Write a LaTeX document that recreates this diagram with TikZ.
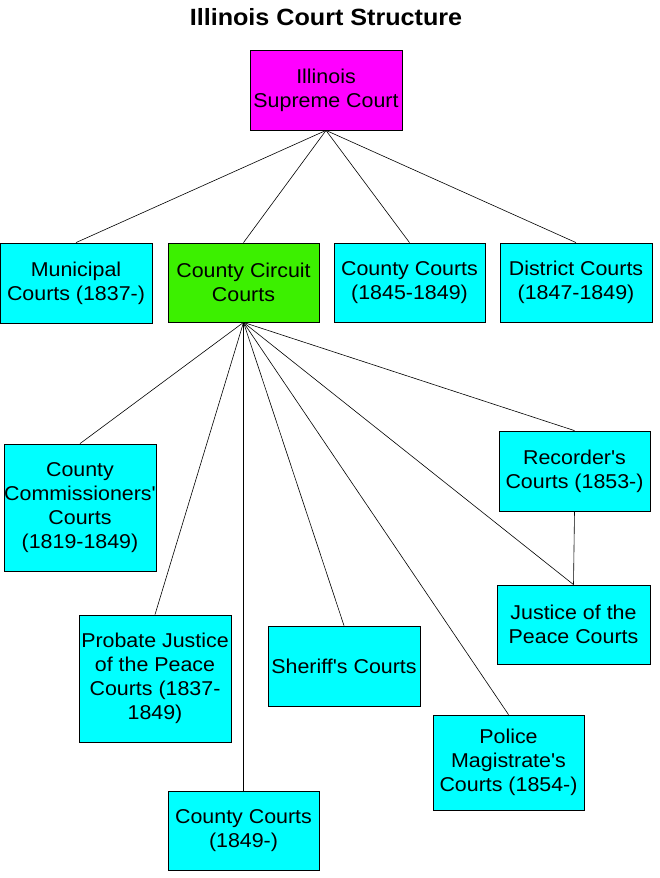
\documentclass[tikz,border=0pt]{standalone}
\usepackage{fontspec}
\setmainfont{Liberation Sans}
\newfontfamily\bodyf{Liberation Sans}[FakeStretch=1.07]
\newcommand{\apo}{\char"0027\relax}
\definecolor{cbox}{RGB}{0,255,255}
\definecolor{mbox}{RGB}{255,0,255}
\definecolor{gbox}{RGB}{60,240,0}
\begin{document}
\begin{tikzpicture}[x=1pt,y=-1pt,
  court/.style={draw=black, line width=0.8pt, fill=cbox, inner sep=0pt, align=center,
    minimum width=152pt, minimum height=80pt, font=\bodyf\fontsize{20}{24}\selectfont},
  link/.style={draw=black, line width=0.6pt}]
\useasboundingbox[fill=white] (0,0) rectangle (660,878);
\node[font=\bodyf\fontsize{23.5}{26}\selectfont\bfseries] (title) at (326,17) {Illinois Court Structure};
\node[court, fill=mbox] (sup) at (326,90) {Illinois\\Supreme Court};
\node[court] (mun) at (76,283) {Municipal\\Courts (1837-)};
\node[court, fill=gbox, minimum width=151pt, minimum height=79pt] (circ) at (243.5,282.5) {County Circuit\\Courts};
\node[court, minimum width=151pt, minimum height=79pt] (cc1) at (409.5,282.5) {County Courts\\(1845-1849)};
\node[court, minimum height=79pt] (dist) at (576,282.5) {District Courts\\(1847-1849)};
\node[court, minimum height=127pt] (comm) at (80,507.5) {County\\Commissioners'\\Courts\\(1819-1849)};
\node[court, minimum width=151pt] (rec) at (574.5,471) {Recorder's\\Courts (1853-)};
\node[court, minimum width=153pt, minimum height=79pt] (jp) at (573.5,624.5) {Justice of the\\Peace Courts};
\node[court, minimum height=127pt] (prob) at (155,678.5) {Probate Justice\\of the Peace\\Courts (1837-\\1849)};
\node[court] (sher) at (344,666) {Sheriff's Courts};
\node[court, minimum width=151pt, minimum height=95pt] (pol) at (508.5,762.5) {Police\\Magistrate's\\Courts (1854-)};
\node[court, minimum width=151pt, minimum height=79pt] (cc2) at (243.5,830.5) {County Courts\\(1849-)};
\draw[link] (sup.south) -- (mun.north);
\draw[link] (sup.south) -- (circ.north);
\draw[link] (sup.south) -- (cc1.north);
\draw[link] (sup.south) -- (dist.north);
\draw[link] (circ.south) -- (comm.north);
\draw[link] (circ.south) -- (prob.north);
\draw[link] (circ.south) -- (cc2.north);
\draw[link] (circ.south) -- (sher.north);
\draw[link] (circ.south) -- (pol.north);
\draw[link] (circ.south) -- (jp.north);
\draw[link] (circ.south) -- (rec.north);
\draw[link] (rec.south) -- (jp.north);
\end{tikzpicture}
\end{document}
